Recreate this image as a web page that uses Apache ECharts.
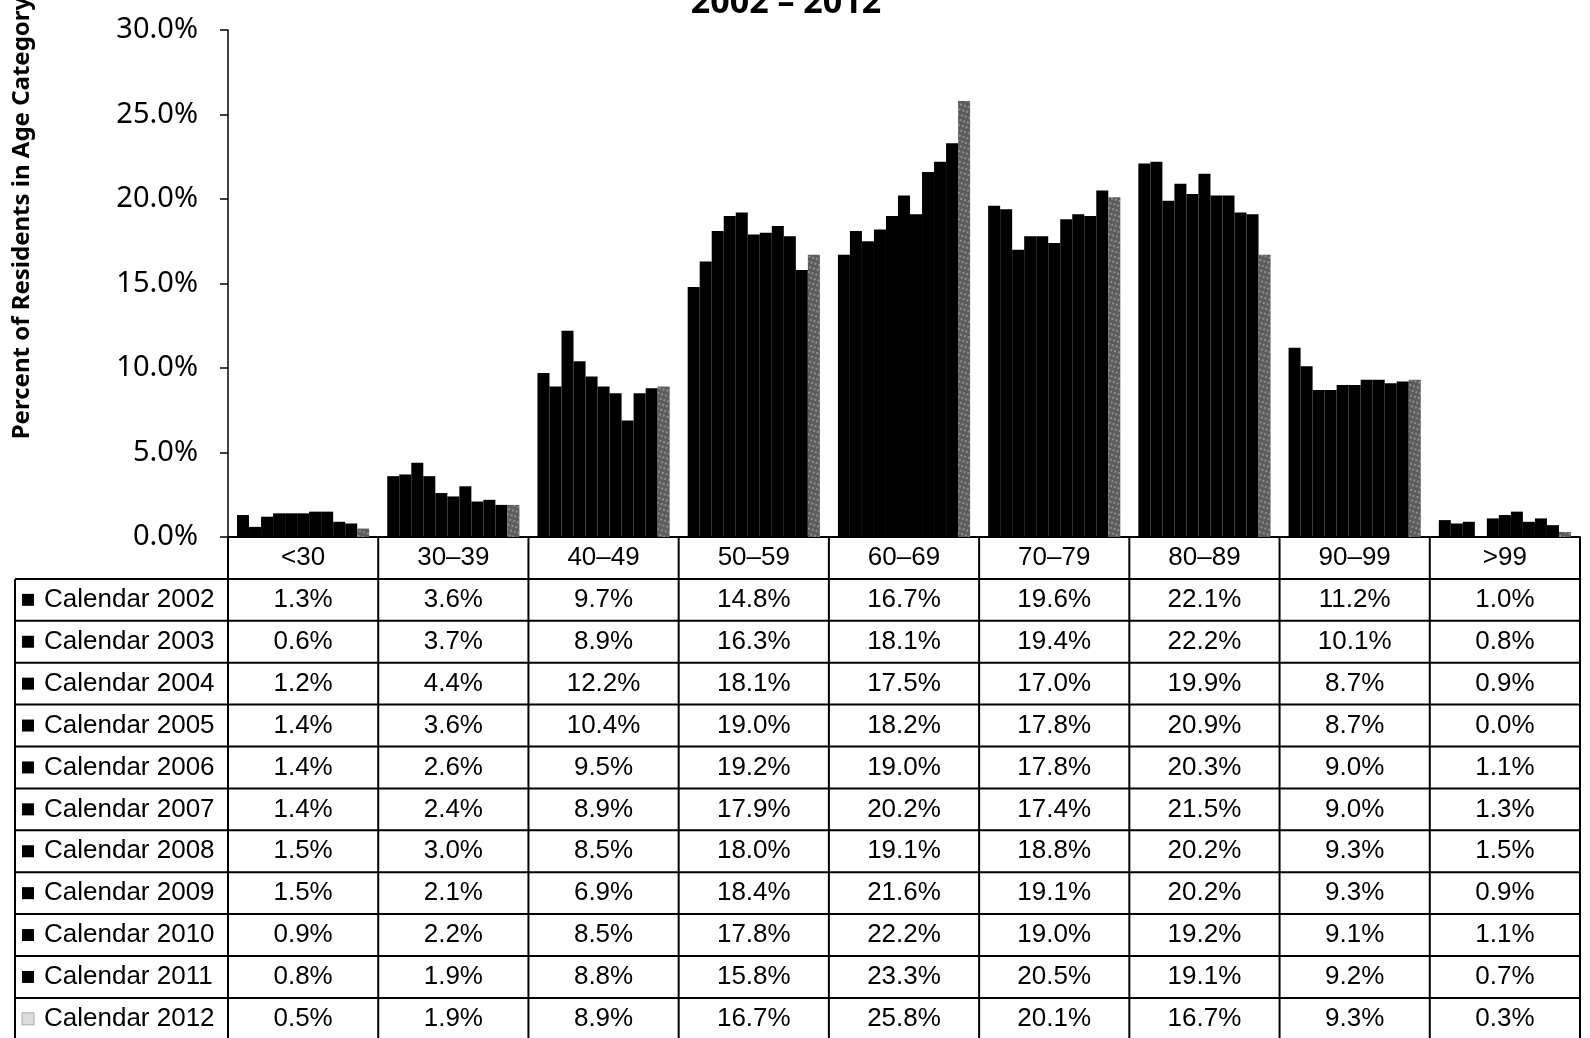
<!DOCTYPE html>
<html>
<head>
<meta charset="utf-8">
<title>Residents in Age Category 2002 – 2012</title>
<script src="https://cdn.jsdelivr.net/npm/echarts@6/dist/echarts.min.js"></script>
<style>
  html, body { margin: 0; padding: 0; background: #fff; }
  #chart { width: 1590px; height: 1038px; }
</style>
</head>
<body>
<div id="chart"></div>
<script>
// age categories (x axis / table header)
const categories = ['<30', '30–39', '40–49', '50–59', '60–69', '70–79', '80–89', '90–99', '>99']
const years = ['Calendar 2002', 'Calendar 2003', 'Calendar 2004', 'Calendar 2005', 'Calendar 2006',
  'Calendar 2007', 'Calendar 2008', 'Calendar 2009', 'Calendar 2010', 'Calendar 2011', 'Calendar 2012']

// percent of residents, one array per year
const y2002 = [1.3, 3.6, 9.7, 14.8, 16.7, 19.6, 22.1, 11.2, 1.0]
const y2003 = [0.6, 3.7, 8.9, 16.3, 18.1, 19.4, 22.2, 10.1, 0.8]
const y2004 = [1.2, 4.4, 12.2, 18.1, 17.5, 17.0, 19.9, 8.7, 0.9]
const y2005 = [1.4, 3.6, 10.4, 19.0, 18.2, 17.8, 20.9, 8.7, 0.0]
const y2006 = [1.4, 2.6, 9.5, 19.2, 19.0, 17.8, 20.3, 9.0, 1.1]
const y2007 = [1.4, 2.4, 8.9, 17.9, 20.2, 17.4, 21.5, 9.0, 1.3]
const y2008 = [1.5, 3.0, 8.5, 18.0, 19.1, 18.8, 20.2, 9.3, 1.5]
const y2009 = [1.5, 2.1, 6.9, 18.4, 21.6, 19.1, 20.2, 9.3, 0.9]
const y2010 = [0.9, 2.2, 8.5, 17.8, 22.2, 19.0, 19.2, 9.1, 1.1]
const y2011 = [0.8, 1.9, 8.8, 15.8, 23.3, 20.5, 19.1, 9.2, 0.7]
const y2012 = [0.5, 1.9, 8.9, 16.7, 25.8, 20.1, 16.7, 9.3, 0.3]
const yearValues = [y2002, y2003, y2004, y2005, y2006, y2007, y2008, y2009, y2010, y2011, y2012]

// y axis ticks
const yMin = 0
const yMax = 30
const yStep = 5

// layout
const WIDTH = 1590
const gridLeft = 228
const gridRight = 10
const gridTop = 30
const axisY = 537 // y of the 0% line, top of the table
const tableLeft = 15
const rowHeight = 41.9
const colWidth = (WIDTH - gridLeft - gridRight) / categories.length
const cellFont = '26px "Liberation Sans", Arial, sans-serif'

const lastIdx = years.length - 1

const series = years.map((name, i) => ({
  name: name,
  type: 'bar',
  data: yearValues[i],
  barGap: '0%',
  barCategoryGap: '12%',
  itemStyle: i === lastIdx ? {
    color: '#5c5c5c',
    decal: {
      symbol: 'rect',
      symbolSize: 0.7,
      dashArrayX: [2, 2],
      dashArrayY: [2, 3],
      rotation: 0.3,
      color: 'rgba(255,255,255,0.6)'
    }
  } : { color: '#000' },
  emphasis: { disabled: true }
}))

// data table drawn under the plot
const graphic = []
const tableBottom = axisY + rowHeight * (years.length + 1)
const line = (x1, y1, x2, y2) => ({
  type: 'line',
  shape: { x1: x1, y1: y1, x2: x2, y2: y2 },
  style: { stroke: '#000', lineWidth: 2 },
  silent: true
})
for (let k = 0; k <= years.length + 1; k++) {
  const y = axisY + rowHeight * k
  graphic.push(line(k === 0 ? gridLeft : tableLeft, y, WIDTH - gridRight, y))
}
for (let c = 0; c <= categories.length; c++) {
  const x = gridLeft + colWidth * c
  graphic.push(line(x, axisY, x, tableBottom))
}
graphic.push(line(tableLeft, axisY + rowHeight, tableLeft, tableBottom))

categories.forEach((cat, c) => {
  graphic.push({
    type: 'text',
    x: gridLeft + colWidth * (c + 0.5),
    y: axisY + rowHeight * 0.5,
    silent: true,
    style: { text: cat, font: cellFont, fill: '#000', align: 'center', verticalAlign: 'middle' }
  })
})

years.forEach((name, r) => {
  const cy = axisY + rowHeight * (r + 1.5)
  graphic.push({
    type: 'rect',
    shape: { x: 22, y: cy - 6, width: 12, height: 12 },
    silent: true,
    style: r === lastIdx ? { fill: '#ddd', stroke: '#aaa', lineWidth: 1 } : { fill: '#000' }
  })
  graphic.push({
    type: 'text',
    x: 44,
    y: cy,
    silent: true,
    style: { text: name, font: cellFont, fill: '#000', align: 'left', verticalAlign: 'middle' }
  })
  yearValues[r].forEach((v, c) => {
    graphic.push({
      type: 'text',
      x: gridLeft + colWidth * (c + 0.5),
      y: cy,
      silent: true,
      style: { text: v.toFixed(1) + '%', font: cellFont, fill: '#000', align: 'center', verticalAlign: 'middle' }
    })
  })
})

// title (cut off by the top edge) and y axis name
graphic.push({
  type: 'text',
  x: 786,
  y: 3,
  silent: true,
  style: {
    text: '2002 – 2012',
    font: 'bold 34px "Noto Sans", "Open Sans", sans-serif',
    fill: '#000',
    align: 'center',
    verticalAlign: 'middle'
  }
})
graphic.push({
  type: 'text',
  x: 22,
  y: 218,
  rotation: Math.PI / 2,
  silent: true,
  style: {
    text: 'Percent of Residents in Age Category',
    font: 'bold 24px "Noto Sans", "Open Sans", sans-serif',
    fill: '#000',
    align: 'center',
    verticalAlign: 'middle'
  }
})

const chartOption = {
  animation: false,
  backgroundColor: '#fff',
  grid: {
    left: gridLeft,
    right: gridRight,
    top: gridTop,
    bottom: 1038 - axisY,
    containLabel: false,
    outerBoundsMode: 'none'
  },
  xAxis: {
    type: 'category',
    data: categories,
    axisLine: { show: true, lineStyle: { color: '#000', width: 2 } },
    axisTick: { show: false },
    axisLabel: { show: false },
    splitLine: { show: false }
  },
  yAxis: {
    type: 'value',
    min: yMin,
    max: yMax,
    interval: yStep,
    axisLine: { show: true, lineStyle: { color: '#000', width: 1.5 } },
    axisTick: { show: true, inside: false, length: 8, lineStyle: { color: '#000', width: 1.5 } },
    axisLabel: {
      color: '#000',
      fontSize: 29,
      fontFamily: '"Noto Sans", "Open Sans", sans-serif',
      margin: 30,
      formatter: value => value.toFixed(1) + '%'
    },
    splitLine: { show: false }
  },
  series: series,
  graphic: graphic
}

const chart = echarts.init(document.getElementById('chart'))
chart.setOption(chartOption)
</script>
</body>
</html>
